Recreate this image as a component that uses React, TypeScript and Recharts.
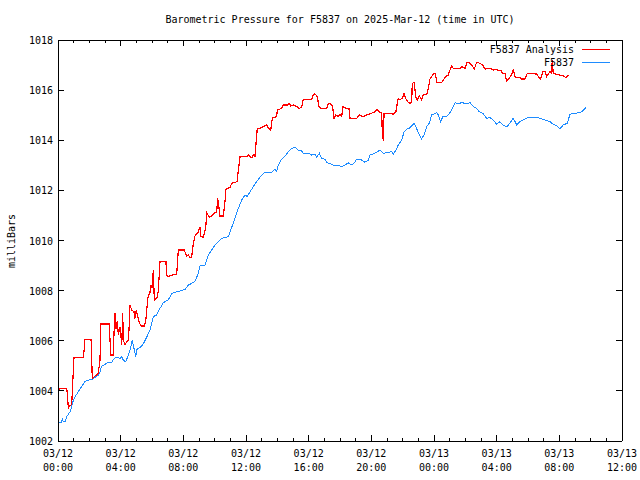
import React from "react";
import { LineChart, Line, XAxis, YAxis } from "recharts";

// Time in hours since 03/12 00:00 UTC
const obsTime = [
  0.0, 0.24, 0.27, 0.34, 0.45, 0.56, 0.77, 0.87, 0.98, 1.09, 1.3, 1.51, 1.72, 1.93, 2.19, 2.36, 2.57, 2.68, 2.79, 3.0,
  3.21, 3.43, 3.59, 3.75, 3.96, 4.07, 4.17, 4.32, 4.45, 4.6, 4.74, 4.83, 4.96, 5.02, 5.13, 5.3, 5.44, 5.66, 5.87, 6.08,
  6.3, 6.51, 6.72, 7.04, 7.26, 7.58, 7.9, 8.11, 8.32, 8.53, 8.74, 8.96, 9.06, 9.38, 9.59, 9.81, 10.02, 10.23, 10.45, 10.87,
  10.98, 11.19, 11.36, 11.51, 11.73, 11.94, 12.08, 12.26, 12.47, 12.68, 12.89, 13.21, 13.64, 13.85, 13.96, 14.06, 14.28, 14.49, 14.7, 14.92,
  15.13, 15.34, 15.56, 15.66, 15.98, 16.19, 16.4, 16.51, 16.68, 16.83, 17.04, 17.19, 17.47, 17.68, 17.89, 18.11, 18.32, 18.53, 18.75, 18.96,
  19.06, 19.28, 19.59, 19.81, 19.91, 20.13, 20.34, 20.55, 20.77, 21.08, 21.3, 21.4, 21.57, 21.72, 21.94, 22.09, 22.26, 22.42, 22.58, 22.74,
  22.9, 23.06, 23.21, 23.36, 23.53, 23.7, 23.85, 24.0, 24.17, 24.27, 24.43, 24.56, 24.77, 24.91, 25.07, 25.23, 25.34, 25.55, 25.77, 26.09,
  26.3, 26.51, 26.72, 26.89, 27.11, 27.36, 27.57, 27.78, 28.0, 28.21, 28.42, 28.64, 28.85, 29.06, 29.28, 29.49, 29.7, 30.02, 30.45, 30.77,
  31.08, 31.4, 31.61, 31.83, 32.04, 32.25, 32.51, 32.68, 33.11, 33.43, 33.7,
];
const obsValue = [
  1002.73, 1002.73, 1002.9, 1002.76, 1002.76, 1002.97, 1003.17, 1003.37, 1003.63, 1003.77, 1003.97, 1004.17, 1004.37, 1004.43, 1004.46, 1004.54, 1004.63, 1004.76, 1004.99, 1005.06,
  1005.14, 1005.14, 1005.3, 1005.34, 1005.3, 1005.36, 1005.23, 1005.16, 1005.36, 1005.63, 1006.03, 1005.76, 1005.36, 1005.63, 1005.7, 1005.76, 1005.87, 1006.14, 1006.43, 1006.96,
  1007.03, 1007.29, 1007.52, 1007.63, 1007.89, 1007.96, 1008.0, 1008.05, 1008.22, 1008.29, 1008.36, 1008.69, 1008.98, 1009.02, 1009.42, 1009.62, 1009.82, 1009.95, 1010.09, 1010.15,
  1010.35, 1010.69, 1011.02, 1011.28, 1011.62, 1011.82, 1011.75, 1011.95, 1012.15, 1012.35, 1012.52, 1012.72, 1012.72, 1012.84, 1012.75, 1013.01, 1013.25, 1013.37, 1013.54, 1013.68,
  1013.72, 1013.61, 1013.57, 1013.48, 1013.48, 1013.41, 1013.45, 1013.32, 1013.48, 1013.28, 1013.24, 1013.1, 1013.04, 1012.97, 1013.01, 1012.94, 1013.01, 1013.1, 1013.01, 1013.14,
  1013.24, 1013.25, 1013.12, 1013.21, 1013.41, 1013.45, 1013.52, 1013.61, 1013.48, 1013.52, 1013.54, 1013.44, 1013.61, 1013.81, 1014.01, 1014.34, 1014.45, 1014.48, 1014.58, 1014.68,
  1014.45, 1014.21, 1014.05, 1014.21, 1014.54, 1014.68, 1015.01, 1015.04, 1015.11, 1015.01, 1014.74, 1014.94, 1014.94, 1015.01, 1015.14, 1015.34, 1015.5, 1015.46, 1015.5, 1015.46,
  1015.5, 1015.34, 1015.27, 1015.14, 1015.08, 1014.88, 1014.9, 1014.81, 1014.64, 1014.74, 1014.61, 1014.54, 1014.68, 1014.88, 1014.61, 1014.74, 1014.81, 1014.91, 1014.91, 1014.88,
  1014.81, 1014.74, 1014.64, 1014.58, 1014.45, 1014.61, 1014.68, 1015.04, 1015.08, 1015.14, 1015.31,
];

const anaTime = [
  0.0, 0.13, 0.56, 0.62, 0.66, 0.77, 0.87, 0.98, 1.02, 1.61, 1.68, 1.72, 2.11, 2.15, 2.19, 2.36, 2.57, 2.68, 2.74, 3.26,
  3.32, 3.38, 3.53, 3.57, 3.64, 3.7, 3.79, 3.85, 3.96, 4.07, 4.13, 4.17, 4.28, 4.38, 4.49, 4.53, 4.6, 4.7, 4.85, 4.91,
  5.0, 5.06, 5.17, 5.3, 5.51, 5.6, 5.7, 5.76, 5.87, 5.94, 6.02, 6.08, 6.15, 6.3, 6.4, 6.51, 6.89, 6.94, 7.04, 7.26,
  7.58, 7.68, 8.06, 8.21, 8.32, 8.43, 8.53, 8.64, 8.74, 8.96, 9.06, 9.13, 9.27, 9.43, 9.49, 9.66, 9.81, 9.96, 10.13, 10.19,
  10.28, 10.34, 10.55, 10.66, 10.72, 10.98, 11.09, 11.44, 11.51, 11.62, 12.04, 12.15, 12.26, 12.36, 12.51, 12.57, 12.64, 12.72, 12.89, 13.1,
  13.32, 13.42, 13.58, 13.68, 13.96, 14.0, 14.28, 14.38, 14.64, 14.76, 14.85, 15.02, 15.24, 15.4, 15.56, 15.66, 16.19, 16.3, 16.4, 16.55,
  16.66, 16.77, 17.15, 17.25, 17.43, 17.53, 17.62, 17.73, 17.89, 18.0, 18.11, 18.17, 18.43, 18.57, 18.64, 19.07, 19.23, 19.45, 19.59, 19.7,
  20.02, 20.23, 20.34, 20.55, 20.66, 20.7, 20.77, 20.81, 21.19, 21.4, 21.57, 21.62, 21.72, 21.83, 22.0, 22.09, 22.21, 22.32, 22.47, 22.58,
  22.61, 22.74, 22.83, 22.93, 23.06, 23.21, 23.32, 23.53, 23.64, 23.74, 23.95, 24.06, 24.13, 24.17, 24.49, 24.59, 24.81, 24.91, 25.02, 25.13,
  25.23, 25.66, 25.77, 25.98, 26.12, 26.3, 26.47, 26.57, 26.72, 26.94, 27.11, 27.26, 27.57, 27.78, 27.96, 28.11, 28.26, 28.38, 28.53, 28.64,
  28.8, 28.96, 29.06, 29.17, 29.28, 29.49, 29.6, 29.81, 29.92, 30.09, 30.55, 30.66, 30.77, 30.87, 30.94, 31.08, 31.19, 31.3, 31.4, 31.51,
  31.55, 31.61, 31.79, 32.04, 32.25, 32.42, 32.57,
];
const anaValue = [
  1003.97, 1004.1, 1004.1, 1003.66, 1003.3, 1003.43, 1003.37, 1004.83, 1005.34, 1005.34, 1005.7, 1006.06, 1006.06, 1005.23, 1004.5, 1004.56, 1004.7, 1005.23, 1006.67, 1006.67,
  1006.03, 1005.43, 1005.43, 1006.23, 1007.09, 1006.49, 1006.8, 1006.23, 1006.56, 1005.83, 1007.09, 1006.03, 1005.83, 1005.96, 1006.03, 1006.43, 1007.43, 1007.23, 1007.16, 1006.89,
  1007.23, 1007.03, 1006.76, 1006.59, 1006.59, 1006.76, 1007.49, 1007.8, 1007.92, 1008.22, 1008.09, 1008.82, 1007.63, 1007.69, 1007.96, 1009.15, 1009.15, 1008.62, 1008.56, 1008.62,
  1008.66, 1009.62, 1009.62, 1009.38, 1009.42, 1009.31, 1009.35, 1009.89, 1010.18, 1010.35, 1010.55, 1010.15, 1010.13, 1010.49, 1011.11, 1010.93, 1010.98, 1011.08, 1011.15, 1011.68,
  1011.28, 1010.98, 1010.98, 1011.55, 1012.04, 1012.12, 1012.28, 1012.35, 1012.81, 1013.34, 1013.34, 1013.41, 1013.34, 1013.3, 1013.45, 1013.34, 1013.88, 1014.48, 1014.48, 1014.54,
  1014.61, 1014.48, 1014.41, 1014.88, 1014.94, 1015.21, 1015.27, 1015.41, 1015.41, 1015.47, 1015.37, 1015.41, 1015.34, 1015.27, 1015.34, 1015.63, 1015.63, 1015.81, 1015.85, 1015.74,
  1015.34, 1015.27, 1015.27, 1015.47, 1015.44, 1015.34, 1014.84, 1015.01, 1014.94, 1015.05, 1014.94, 1015.34, 1015.27, 1015.27, 1014.88, 1014.88, 1015.01, 1014.94, 1014.97, 1015.01,
  1015.08, 1015.14, 1015.23, 1015.11, 1015.11, 1014.28, 1013.97, 1015.08, 1015.08, 1015.04, 1015.14, 1015.34, 1015.67, 1015.61, 1015.7, 1015.87, 1015.65, 1015.54, 1015.47, 1015.54,
  1016.27, 1016.31, 1015.74, 1015.61, 1015.78, 1015.61, 1015.81, 1015.81, 1016.07, 1016.44, 1016.64, 1016.67, 1016.5, 1016.31, 1016.31, 1016.4, 1016.58, 1016.6, 1016.8, 1016.97,
  1016.87, 1016.87, 1016.94, 1016.87, 1017.11, 1017.07, 1016.94, 1016.84, 1017.11, 1017.07, 1017.0, 1016.84, 1016.87, 1016.8, 1016.84, 1016.78, 1016.8, 1016.67, 1016.67, 1016.36,
  1016.47, 1016.64, 1016.8, 1016.54, 1016.5, 1016.5, 1016.44, 1016.44, 1016.64, 1016.67, 1016.64, 1016.54, 1016.44, 1016.54, 1016.74, 1016.74, 1016.54, 1016.64, 1016.74, 1016.67,
  1017.2, 1016.67, 1016.64, 1016.6, 1016.58, 1016.5, 1016.6,
];

const xTicks = Array.from({ length: 37 }, (_, i) => i);
const xDateLabels = ["03/12", "03/12", "03/12", "03/12", "03/12", "03/12", "03/13", "03/13", "03/13", "03/13"];
const xTimeLabels = ["00:00", "04:00", "08:00", "12:00", "16:00", "20:00", "00:00", "04:00", "08:00", "12:00"];
const yTicks = [1002, 1004, 1006, 1008, 1010, 1012, 1014, 1016, 1018];

const TITLE = "Barometric Pressure for F5837 on 2025-Mar-12 (time in UTC)";
const Y_LABEL = "milliBars";
const SERIES_ANA = "F5837 Analysis";
const SERIES_OBS = "F5837";

const FONT = "'DejaVu Sans Mono', monospace";
const RED = "#ff0000";
const BLUE = "#1e8cff";

const obsData = obsTime.map((t, i) => ({ t, v: obsValue[i] }));
const anaData = anaTime.map((t, i) => ({ t, v: anaValue[i] }));

const BottomTick = (props: any) => {
  const { x, y, payload } = props;
  const h = payload.value as number;
  const major = h % 4 === 0;
  const idx = h / 4;
  return (
    <g>
      <line x1={x} x2={x} y1={y} y2={y - (major ? 6 : 3)} stroke="#000" strokeWidth={1} shapeRendering="crispEdges" />
      {major && (
        <text x={x} y={y + 16} textAnchor="middle" fontFamily={FONT} fontSize={10} fill="#000">
          {xDateLabels[idx]}
        </text>
      )}
      {major && (
        <text x={x} y={y + 30} textAnchor="middle" fontFamily={FONT} fontSize={10} fill="#000">
          {xTimeLabels[idx]}
        </text>
      )}
    </g>
  );
};

const TopTick = (props: any) => {
  const { x, y, payload } = props;
  const h = payload.value as number;
  const major = h % 4 === 0;
  return <line x1={x} x2={x} y1={y} y2={y + (major ? 6 : 3)} stroke="#000" strokeWidth={1} shapeRendering="crispEdges" />;
};

const LeftTick = (props: any) => {
  const { x, y, payload } = props;
  return (
    <g>
      <line x1={x} x2={x + 6} y1={y} y2={y} stroke="#000" strokeWidth={1} shapeRendering="crispEdges" />
      <text x={x - 5} y={y + 4} textAnchor="end" fontFamily={FONT} fontSize={10} fill="#000">
        {payload.value}
      </text>
    </g>
  );
};

const RightTick = (props: any) => {
  const { x, y } = props;
  return <line x1={x} x2={x - 6} y1={y} y2={y} stroke="#000" strokeWidth={1} shapeRendering="crispEdges" />;
};

export default function App() {
  return (
    <div style={{ position: "absolute", left: 0, top: 0, width: 640, height: 480, background: "#fff" }}>
      <LineChart width={640} height={480} margin={{ top: 30, right: 8, bottom: 9, left: 0 }}>
        <XAxis
          xAxisId="b"
          dataKey="t"
          type="number"
          domain={[0, 36]}
          ticks={xTicks}
          interval={0}
          allowDataOverflow
          height={30}
          tickSize={0}
          tickMargin={0}
          tickLine={false}
          axisLine={{ stroke: "#000", strokeWidth: 1, shapeRendering: "crispEdges" }}
          tick={<BottomTick />}
        />
        <XAxis
          xAxisId="t"
          orientation="top"
          dataKey="t"
          type="number"
          domain={[0, 36]}
          ticks={xTicks}
          interval={0}
          allowDataOverflow
          height={10}
          tickSize={0}
          tickMargin={0}
          tickLine={false}
          axisLine={{ stroke: "#000", strokeWidth: 1, shapeRendering: "crispEdges" }}
          tick={<TopTick />}
        />
        <YAxis
          yAxisId="l"
          type="number"
          domain={[1002, 1018]}
          ticks={yTicks}
          interval={0}
          allowDataOverflow
          width={58}
          tickSize={0}
          tickMargin={0}
          tickLine={false}
          axisLine={{ stroke: "#000", strokeWidth: 1, shapeRendering: "crispEdges" }}
          tick={<LeftTick />}
        />
        <YAxis
          yAxisId="r"
          orientation="right"
          type="number"
          domain={[1002, 1018]}
          ticks={yTicks}
          interval={0}
          allowDataOverflow
          width={10}
          tickSize={0}
          tickMargin={0}
          tickLine={false}
          axisLine={{ stroke: "#000", strokeWidth: 1, shapeRendering: "crispEdges" }}
          tick={<RightTick />}
        />
        <Line
          xAxisId="b"
          yAxisId="l"
          data={anaData}
          dataKey="v"
          type="linear"
          stroke={RED}
          strokeWidth={1.2}
          shapeRendering="crispEdges"
          dot={false}
          isAnimationActive={false}
        />
        <Line
          xAxisId="b"
          yAxisId="l"
          data={obsData}
          dataKey="v"
          type="linear"
          stroke={BLUE}
          strokeWidth={1}
          shapeRendering="crispEdges"
          dot={false}
          isAnimationActive={false}
        />
      </LineChart>
      <svg width={640} height={480} style={{ position: "absolute", left: 0, top: 0, pointerEvents: "none" }}>
        <text x={340} y={23} textAnchor="middle" fontFamily={FONT} fontSize={10} fill="#000">
          {TITLE}
        </text>
        <text
          x={0}
          y={0}
          transform="translate(15,241) rotate(-90)"
          textAnchor="middle"
          fontFamily={FONT}
          fontSize={10}
          fill="#000"
        >
          {Y_LABEL}
        </text>
        <text x={574} y={53} textAnchor="end" fontFamily={FONT} fontSize={10} fill="#000">
          {SERIES_ANA}
        </text>
        <line x1={582} x2={610} y1={49.5} y2={49.5} stroke={RED} strokeWidth={1} />
        <text x={574} y={66} textAnchor="end" fontFamily={FONT} fontSize={10} fill="#000">
          {SERIES_OBS}
        </text>
        <line x1={582} x2={610} y1={62.5} y2={62.5} stroke={BLUE} strokeWidth={1} />
      </svg>
    </div>
  );
}
